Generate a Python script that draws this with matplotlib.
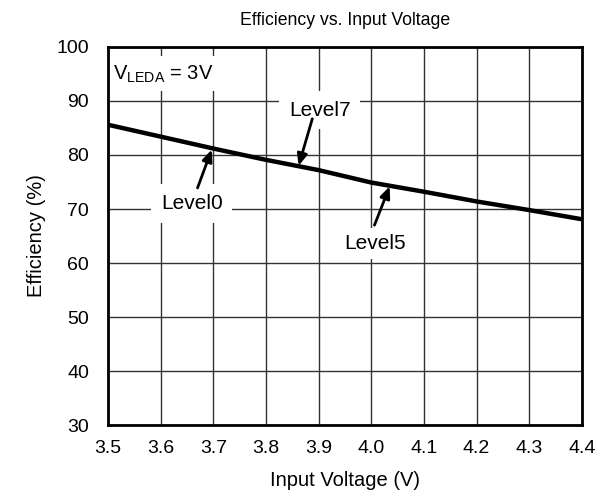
import matplotlib
matplotlib.use("Agg")
import matplotlib.pyplot as plt

plt.rcParams['font.family'] = ['Liberation Sans', 'DejaVu Sans']

voltage = [3.5, 3.6, 3.7, 3.8, 3.9, 4.0, 4.1, 4.2, 4.3, 4.4]
efficiency = [85.6, 83.4, 81.2, 79.1, 77.2, 74.9, 73.2, 71.4, 69.8, 68.1]
x_ticks = [3.5, 3.6, 3.7, 3.8, 3.9, 4.0, 4.1, 4.2, 4.3, 4.4]
y_ticks = [30, 40, 50, 60, 70, 80, 90, 100]

fig = plt.figure(figsize=(5.95, 5.03), dpi=100)
ax = fig.add_axes([0.1815, 0.155, 0.7965, 0.7516])

ax.plot(voltage, efficiency, color='black', linewidth=3.2, zorder=5, solid_capstyle='butt')

ax.set_xlim(3.5, 4.4)
ax.set_ylim(30, 100)
ax.set_xticks(x_ticks)
ax.set_xticklabels([f"{v:.1f}" for v in x_ticks])
ax.set_yticks(y_ticks)
ax.tick_params(axis='both', length=0, labelsize=14)
ax.tick_params(axis='y', pad=13.5)
ax.tick_params(axis='x', pad=11)
ax.grid(True, color='#333333', linewidth=1.0)
ax.set_axisbelow(True)
for s in ax.spines.values():
    s.set_linewidth(2.0)
    s.set_color('black')
    s.set_zorder(6)

ax.set_xlabel('Input Voltage (V)', fontsize=14.5, labelpad=10)
ax.set_ylabel('Efficiency (%)', fontsize=14.5, labelpad=8)
ax.set_title('Efficiency vs. Input Voltage', fontsize=12.7, pad=16)

box = dict(facecolor='white', edgecolor='none', pad=7)
ax.text(3.51, 95.0, r'V$_{\mathregular{LEDA}}$ = 3V', fontsize=14.5, ha='left', va='center',
        bbox=dict(facecolor='white', edgecolor='none', pad=5), zorder=4)
ax.text(3.902, 88.3, 'Level7', fontsize=15, ha='center', va='center', bbox=box, zorder=4)
ax.text(3.659, 71.0, 'Level0', fontsize=15, ha='center', va='center', bbox=box, zorder=4)
ax.text(4.007, 63.6, 'Level5', fontsize=15, ha='center', va='center',
        bbox=dict(facecolor='white', edgecolor='none', pad=4.5), zorder=4)

arrow = dict(arrowstyle='-|>,head_length=0.7,head_width=0.3', color='black', lw=2.0, shrinkA=0, shrinkB=0)
ax.annotate('', xy=(3.697, 81.0), xytext=(3.670, 73.9), arrowprops=arrow, zorder=7)
ax.annotate('', xy=(3.862, 78.0), xytext=(3.888, 86.7), arrowprops=arrow, zorder=7)
ax.annotate('', xy=(4.035, 74.2), xytext=(4.006, 67.0), arrowprops=arrow, zorder=7)

fig.savefig('out.png', dpi=100)
